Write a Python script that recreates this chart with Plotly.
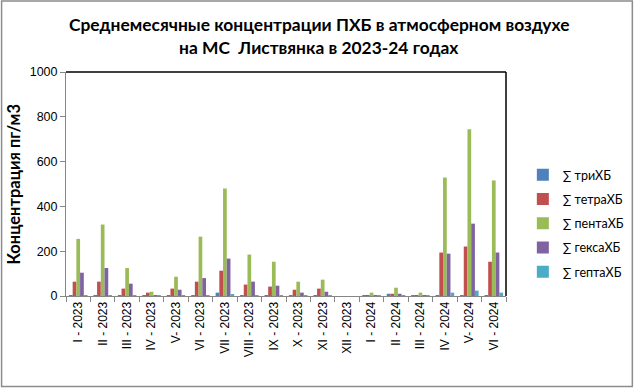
import plotly.graph_objects as go

categories = ["I - 2023", "II - 2023", "III - 2023", "IV - 2023", "V- 2023", "VI - 2023",
              "VII - 2023", "VIII - 2023", "IX - 2023", "X - 2023", "XI - 2023", "XII - 2023",
              "I - 2024", "II - 2024", "III - 2024", "IV - 2024", "V- 2024", "VI - 2024"]

tri   = [4, 3, 3, 2, 3, 3, 15, 3, 3, 3, 2, 0, 4, 10, 4, 3, 3, 3]
tetra = [64, 64, 33, 15, 33, 64, 113, 51, 42, 28, 33, 0, 4, 10, 4, 194, 221, 153]
penta = [255, 319, 125, 19, 86, 265, 480, 185, 153, 64, 73, 0, 15, 37, 15, 529, 744, 516]
geksa = [104, 125, 55, 4, 28, 80, 167, 64, 46, 15, 19, 0, 4, 10, 4, 189, 323, 194]
gepta = [4, 3, 3, 3, 3, 4, 9, 3, 3, 3, 3, 0, 4, 4, 4, 15, 24, 15]

series_names = ["∑ триХБ", "∑ тетраХБ", "∑ пентаХБ", "∑ гексаХБ", "∑ гептаХБ"]
series_vals = [tri, tetra, penta, geksa, gepta]
colors = ["#4F81BD", "#C0504D", "#9BBB59", "#8064A2", "#4BACC6"]

title_lines = ["Среднемесячные концентрации ПХБ в атмосферном воздухе",
               "на МС  Листвянка в 2023-24 годах"]
y_title = "Концентрация пг/м3"

W, H = 641, 390
L, R, T, B = 66, 131, 72, 94
pw, ph = W - L - R, H - T - B

fig = go.Figure()
for i, (name, vals, col) in enumerate(zip(series_names, series_vals, colors)):
    fig.add_trace(go.Bar(x=categories, y=vals, name=name, marker_color=col,
                         marker_line_width=0, legendgroup=f"g{i}"))

def px_x(px):
    return (px - L) / pw

def px_y(py):
    return (H - B - py) / ph

shapes = [
    dict(type="line", xref="paper", yref="paper", x0=0, x1=1, y0=1, y1=1,
         line=dict(color="black", width=1.5)),
    dict(type="line", xref="paper", yref="paper", x0=1, x1=1, y0=0, y1=1,
         line=dict(color="black", width=1.5)),
    dict(type="rect", xref="paper", yref="paper",
         x0=px_x(1), x1=px_x(637.5), y0=px_y(386.5), y1=px_y(1),
         line=dict(color="#8C8C8C", width=1.5), fillcolor="rgba(0,0,0,0)", layer="below"),
]

annotations = [
    dict(text=title_lines[0], xref="paper", yref="paper", x=px_x(321), y=px_y(25),
         xanchor="center", yanchor="middle", showarrow=False,
         font=dict(family="Lato", size=17.4, color="black", weight="bold")),
    dict(text=title_lines[1], xref="paper", yref="paper", x=px_x(321), y=px_y(48),
         xanchor="center", yanchor="middle", showarrow=False,
         font=dict(family="Lato", size=17.4, color="black", weight="bold")),
    dict(text=y_title, xref="paper", yref="paper", x=px_x(14), y=0.5, textangle=-90,
         xanchor="center", yanchor="middle", showarrow=False,
         font=dict(family="Lato", size=16.5, color="black", weight="bold")),
]

fig.update_layout(
    width=W, height=H,
    margin=dict(l=L, r=R, t=T, b=B),
    paper_bgcolor="white", plot_bgcolor="white",
    barmode="group", bargap=0.24, bargroupgap=0,
    font=dict(family="Liberation Sans", color="black"),
    xaxis=dict(type="category", tickangle=-90, tickson="boundaries", ticks="outside",
               ticklen=5, tickcolor="#868686", linecolor="#868686", showline=True,
               showgrid=False, tickfont=dict(family="Liberation Sans", size=12, color="black")),
    yaxis=dict(range=[0, 1000], dtick=200, ticks="outside", ticklen=5, tickcolor="#868686",
               linecolor="#868686", showline=True, showgrid=False, zeroline=False,
               tickfont=dict(family="Liberation Sans", size=12.5, color="black")),
    legend=dict(x=px_x(527), xanchor="left", y=px_y(160), yanchor="top",
                font=dict(family="Lato", size=12.5, color="black"),
                tracegroupgap=5, itemwidth=30, bgcolor="rgba(0,0,0,0)"),
    showlegend=True,
    shapes=shapes,
    annotations=annotations,
)

fig.write_html("out.html", config={"displayModeBar": False},
               post_script="document.body.style.margin='0';document.body.style.overflow='hidden';")
